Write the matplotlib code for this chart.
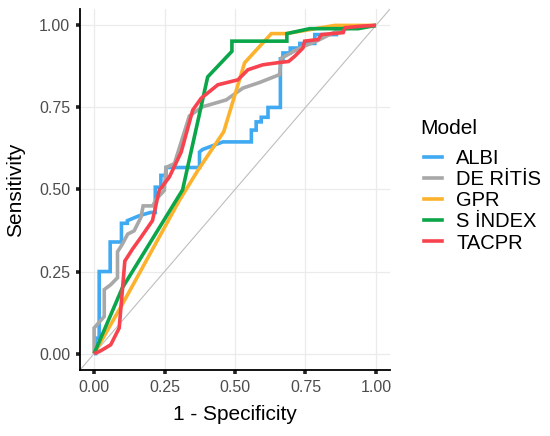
import numpy as np
import matplotlib as mpl
mpl.use('Agg')
from matplotlib import pyplot as plt
from matplotlib.lines import Line2D

plt.rcParams['font.family'] = ['Liberation Sans', 'DejaVu Sans']

# ---------- ROC curve points (1 - specificity, sensitivity) ----------

modelNames = ["ALBI", "DE RİTİS", "GPR", "S İNDEX", "TACPR"]
modelColours = ["#3FA9F2", "#A8A8A8", "#FCB22C", "#0BA64A", "#F8434F"]

albiFpr = [0.00, 0.006, 0.006, 0.018, 0.018, 0.057, 0.057, 0.097, 0.097, 0.118, 0.118, 0.16, 0.20,
           0.217, 0.217, 0.237, 0.237, 0.255, 0.255, 0.374, 0.374, 0.385, 0.457, 0.558, 0.558,
           0.575, 0.575, 0.593, 0.593, 0.617, 0.617, 0.661, 0.661, 0.670, 0.670, 0.696, 0.696,
           0.730, 0.730, 0.783, 0.783, 0.86, 0.86, 1.00]
albiTpr = [0.00, 0.00, 0.047, 0.047, 0.25, 0.25, 0.34, 0.34, 0.397, 0.397, 0.405, 0.42, 0.43,
           0.43, 0.507, 0.507, 0.543, 0.543, 0.567, 0.567, 0.614, 0.622, 0.645, 0.645, 0.681,
           0.681, 0.706, 0.706, 0.72, 0.72, 0.75, 0.75, 0.898, 0.898, 0.916, 0.916, 0.931,
           0.931, 0.945, 0.945, 0.972, 0.972, 0.99, 1.00]

ritisFpr = [0.00, 0.00, 0.036, 0.036, 0.059, 0.083, 0.083, 0.10, 0.119, 0.142, 0.166, 0.174, 0.208,
            0.22, 0.249, 0.255, 0.285, 0.30, 0.338, 0.385, 0.469, 0.528, 0.587, 0.658, 0.664,
            0.688, 0.730, 0.789, 0.836, 0.872, 1.00]
ritisTpr = [0.00, 0.078, 0.113, 0.195, 0.21, 0.231, 0.31, 0.333, 0.364, 0.374, 0.415, 0.45, 0.45,
            0.47, 0.497, 0.567, 0.579, 0.62, 0.724, 0.752, 0.773, 0.809, 0.826, 0.85, 0.90,
            0.911, 0.931, 0.952, 0.972, 0.988, 1.00]

gprFpr = [0.00, 0.10, 0.302, 0.368, 0.460, 0.534, 0.629, 0.682, 0.854, 1.00]
gprTpr = [0.00, 0.15, 0.466, 0.558, 0.676, 0.886, 0.975, 0.975, 1.00, 1.00]

sindexFpr = [0.00, 0.10, 0.314, 0.403, 0.489, 0.489, 0.684, 0.684, 0.765, 0.937, 1.00]
sindexTpr = [0.00, 0.20, 0.499, 0.843, 0.921, 0.952, 0.952, 0.975, 0.99, 0.99, 1.00]

tacprFpr = [0.00, 0.018, 0.042, 0.059, 0.089, 0.109, 0.136, 0.166, 0.207, 0.231, 0.267, 0.309,
            0.350, 0.380, 0.439, 0.510, 0.546, 0.599, 0.658, 0.690, 0.712, 0.741, 0.747, 0.795,
            0.807, 0.884, 0.890, 0.955, 1.00]
tacprTpr = [0.00, 0.006, 0.018, 0.027, 0.078, 0.282, 0.318, 0.354, 0.405, 0.497, 0.538, 0.614,
            0.742, 0.778, 0.819, 0.834, 0.865, 0.88, 0.887, 0.89, 0.906, 0.931, 0.952, 0.957,
            0.972, 0.978, 0.993, 0.998, 1.00]

allFpr = [albiFpr, ritisFpr, gprFpr, sindexFpr, tacprFpr]
allTpr = [albiTpr, ritisTpr, gprTpr, sindexTpr, tacprTpr]

tickVals = [0.00, 0.25, 0.50, 0.75, 1.00]
tickLabels = ['%.2f' % a for a in tickVals]

# ---------- Plot ----------

fig = plt.figure(figsize=(5.5, 4.36), dpi=100)
ax = fig.add_axes([0.1455, 0.1514, 0.5636, 0.8280])

ax.plot([-0.1, 1.1], [-0.1, 1.1], color="#BEBEBE", lw=0.8, zorder=1)

for name, colour, fpr, tpr in zip(modelNames, modelColours, allFpr, allTpr):
    ax.plot(fpr, tpr, color=colour, lw=2.6, label=name, zorder=3,
            solid_joinstyle='miter', solid_capstyle='butt')

ax.set_xlim(-0.05, 1.05)
ax.set_ylim(-0.05, 1.05)
ax.set_xticks(tickVals)
ax.set_xticklabels(tickLabels)
ax.set_yticks(tickVals)
ax.set_yticklabels(tickLabels)

ax.grid(True, color="#EBEBEB", lw=0.9, zorder=0)
ax.set_axisbelow(True)
for side in ['top', 'right']:
    ax.spines[side].set_visible(False)
for side in ['left', 'bottom']:
    ax.spines[side].set_linewidth(1.3)
    ax.spines[side].set_color('black')
ax.tick_params(axis='both', length=3.2, width=2.6, color='#222222',
               labelsize=11.5, labelcolor='#4D4D4D', pad=4)

ax.set_xlabel("1 - Specificity", fontsize=15, labelpad=7)
ax.set_ylabel("Sensitivity", fontsize=15, labelpad=10)

# legend: title drawn separately so the gap under it matches
fig.text(0.765, 0.705, "Model", fontsize=15, ha='left', va='center')
handles = [Line2D([0], [0], color=c, lw=2.6) for c in modelColours]
leg = fig.legend(handles, modelNames, loc='upper left',
                 bbox_to_anchor=(0.771, 0.659), frameon=False, fontsize=14.5,
                 handlelength=0.9, handletextpad=0.7,
                 labelspacing=0.11, borderpad=0, borderaxespad=0)

plt.savefig("out.png", dpi=100, facecolor='w')
